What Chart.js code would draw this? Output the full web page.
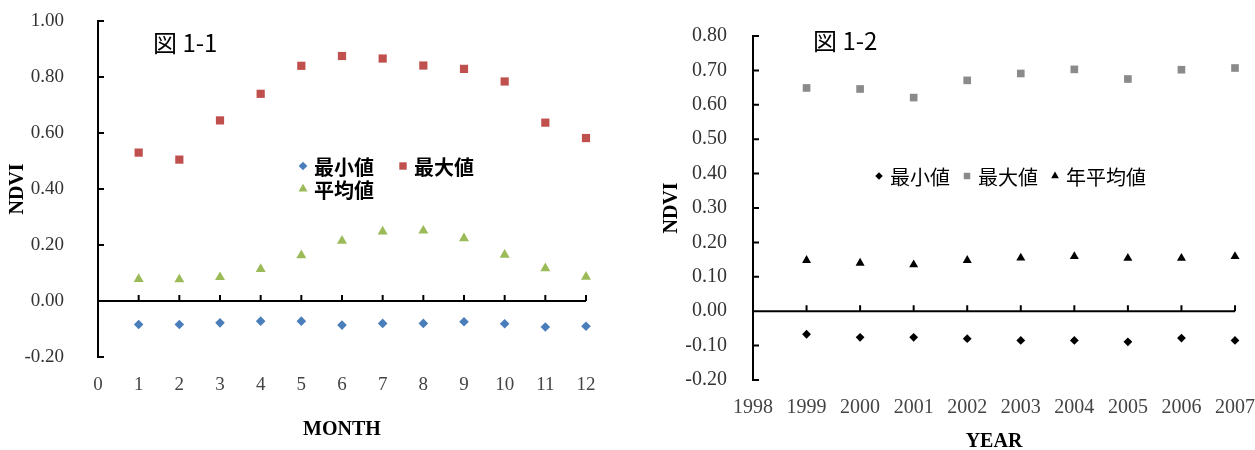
<!DOCTYPE html>
<html lang="ja">
<head>
<meta charset="utf-8">
<title>NDVI</title>
<script src="https://cdn.jsdelivr.net/npm/chart.js@4.4.1/dist/chart.umd.min.js"></script>
<style>
  body { margin: 0; background: #fff; }
  #wrap { position: relative; width: 1255px; height: 450px; }
  #wrap canvas { position: absolute; top: 0; }
  .fig { position: absolute; font-family: "Noto Sans CJK JP", sans-serif; font-size: 24px; line-height: 1; color: #000; white-space: nowrap; }
</style>
</head>
<body>
<div id="wrap">
  <canvas id="monthChart" width="627" height="450" style="left:0"></canvas>
  <canvas id="yearChart" width="628" height="450" style="left:627px"></canvas>
  <div class="fig" style="left:153px;top:30px">図 1-1</div>
  <div class="fig" style="left:813px;top:28px">図 1-2</div>
</div>
<script>
// monthly NDVI
const months = [1, 2, 3, 4, 5, 6, 7, 8, 9, 10, 11, 12];
const monthMin = [-0.084, -0.084, -0.078, -0.072, -0.072, -0.086, -0.080, -0.080, -0.074, -0.081, -0.093, -0.090];
const monthMax = [0.530, 0.505, 0.645, 0.740, 0.840, 0.875, 0.866, 0.841, 0.829, 0.784, 0.637, 0.582];
const monthMean = [0.078, 0.077, 0.085, 0.114, 0.163, 0.215, 0.248, 0.251, 0.224, 0.165, 0.117, 0.086];

// yearly NDVI
const years = [1999, 2000, 2001, 2002, 2003, 2004, 2005, 2006, 2007];
const yearMin = [-0.067, -0.076, -0.076, -0.080, -0.085, -0.085, -0.089, -0.078, -0.085];
const yearMax = [0.649, 0.646, 0.621, 0.671, 0.691, 0.703, 0.675, 0.702, 0.707];
const yearMean = [0.148, 0.140, 0.135, 0.148, 0.155, 0.159, 0.154, 0.154, 0.159];

const monthLabels = ['最小値', '最大値', '平均値'];
const yearLabels = ['最小値', '最大値', '年平均値'];

const toPoints = (xs, ys) => xs.map((x, i) => ({x: x, y: ys[i]}));
const fmt2 = v => (Math.abs(v) < 1e-9 ? 0 : v).toFixed(2);

// zero line with inward tick marks, plus inward ticks on the value axis
const axisMarks = {
  id: 'axisMarks',
  beforeDatasetsDraw(chart) {
    const {ctx, chartArea, scales} = chart;
    const x = scales.x, y = scales.y;
    const y0 = y.getPixelForValue(0);
    ctx.save();
    ctx.strokeStyle = '#000';
    ctx.lineWidth = 2;
    ctx.beginPath();
    ctx.moveTo(chartArea.left, y0);
    ctx.lineTo(chartArea.right, y0);
    x.ticks.forEach(t => {
      const px = x.getPixelForValue(t.value);
      ctx.moveTo(px, y0);
      ctx.lineTo(px, y0 - 6);
    });
    y.ticks.forEach(t => {
      const py = y.getPixelForValue(t.value);
      ctx.moveTo(chartArea.left, py);
      ctx.lineTo(chartArea.left + 6, py);
    });
    ctx.stroke();
    ctx.restore();
  }
};

// legend laid out inside the plot area
const floatLegend = {
  id: 'floatLegend',
  afterDatasetsDraw(chart, args, opts) {
    const ctx = chart.ctx;
    ctx.save();
    ctx.font = opts.font;
    ctx.textBaseline = 'middle';
    chart.data.datasets.forEach((ds, i) => {
      const col = i % opts.columns;
      const row = Math.floor(i / opts.columns);
      const px = opts.x + col * opts.colWidth;
      const py = opts.y + row * opts.rowHeight;
      ctx.fillStyle = ds.backgroundColor;
      Chart.helpers.drawPoint(ctx, {
        pointStyle: ds.pointStyle,
        radius: ds.pointRadius * opts.markerScale,
        rotation: 0,
        borderWidth: 0
      }, px, py);
      ctx.fillStyle = '#000';
      ctx.fillText(ds.label, px + opts.gap, py + 1);
    });
    ctx.restore();
  }
};

function makeChart(id, cfg) {
  const serif = '"Liberation Serif", "Times New Roman", serif';
  return new Chart(document.getElementById(id), {
    type: 'scatter',
    data: {datasets: cfg.datasets},
    plugins: [axisMarks, floatLegend],
    options: {
      responsive: false,
      animation: false,
      layout: {padding: cfg.padding},
      plugins: {
        legend: {display: false},
        tooltip: {enabled: false},
        floatLegend: cfg.legend
      },
      scales: {
        x: {
          type: 'linear',
          min: cfg.xMin,
          max: cfg.xMax,
          // fixed band height, and no extra room reserved for the end labels
          afterFit: s => { s.height = cfg.xHeight; s.paddingLeft = 0; s.paddingRight = 0; },
          grid: {display: false},
          border: {display: false},
          ticks: {
            stepSize: 1,
            padding: cfg.xPad,
            color: '#444',
            font: {family: serif, size: cfg.tickSize},
            callback: v => String(v)
          },
          title: {
            display: true,
            text: cfg.xTitle,
            color: '#000',
            padding: {top: 0, bottom: cfg.xTitlePad},
            font: {family: serif, size: 20, weight: 'bold', lineHeight: cfg.xTitleLine}
          }
        },
        y: {
          type: 'linear',
          min: cfg.yMin,
          max: cfg.yMax,
          afterFit: s => { s.width = cfg.yWidth; s.paddingTop = 0; s.paddingBottom = 0; },
          grid: {display: false},
          border: {display: true, color: '#000', width: 2},
          ticks: {
            stepSize: cfg.yStep,
            padding: cfg.yPad,
            color: '#333',
            font: {family: serif, size: cfg.tickSize},
            callback: fmt2
          },
          title: {
            display: true,
            text: 'NDVI',
            color: '#000',
            padding: {top: cfg.yTitlePad, bottom: 0},
            font: {family: serif, size: 20, weight: 'bold'}
          }
        }
      }
    }
  });
}

makeChart('monthChart', {
  datasets: [
    {label: monthLabels[0], data: toPoints(months, monthMin), pointStyle: 'rectRot', pointRadius: 4.8, backgroundColor: '#4A7EBB', borderWidth: 0, clip: false},
    {label: monthLabels[1], data: toPoints(months, monthMax), pointStyle: 'rect', pointRadius: 5.8, backgroundColor: '#C0504D', borderWidth: 0, clip: false},
    {label: monthLabels[2], data: toPoints(months, monthMean), pointStyle: 'triangle', pointRadius: 5.8, backgroundColor: '#9BBB59', borderWidth: 0, clip: false}
  ],
  padding: {top: 21, right: 41, bottom: 0, left: 0},
  xMin: 0, xMax: 12, xHeight: 93, xPad: 9, xTitle: 'MONTH', xTitlePad: 8, xTitleLine: 1.2,
  yMin: -0.2, yMax: 1.0, yStep: 0.2, yWidth: 98, yPad: 26, yTitlePad: 6,
  tickSize: 19,
  legend: {x: 303, y: 166, columns: 2, colWidth: 100, rowHeight: 23, gap: 11, markerScale: 0.9,
           font: 'bold 20px "Noto Sans CJK JP", sans-serif'}
});

makeChart('yearChart', {
  datasets: [
    {label: yearLabels[0], data: toPoints(years, yearMin), pointStyle: 'rectRot', pointRadius: 4.4, backgroundColor: '#000', borderWidth: 0, clip: false},
    {label: yearLabels[1], data: toPoints(years, yearMax), pointStyle: 'rect', pointRadius: 5.4, backgroundColor: '#8a8a8a', borderWidth: 0, clip: false},
    {label: yearLabels[2], data: toPoints(years, yearMean), pointStyle: 'triangle', pointRadius: 5.2, backgroundColor: '#000', borderWidth: 0, clip: false}
  ],
  padding: {top: 36, right: 20, bottom: 0, left: 0},
  xMin: 1998, xMax: 2007, xHeight: 70, xPad: 8, xTitle: 'YEAR', xTitlePad: 0, xTitleLine: 0.8,
  yMin: -0.2, yMax: 0.8, yStep: 0.1, yWidth: 126, yPad: 18, yTitlePad: 33,
  tickSize: 20,
  legend: {x: 252, y: 176, columns: 3, colWidth: 88, rowHeight: 23, gap: 11, markerScale: 0.85,
           font: '20px "Noto Sans CJK JP", sans-serif'}
});
</script>
</body>
</html>
